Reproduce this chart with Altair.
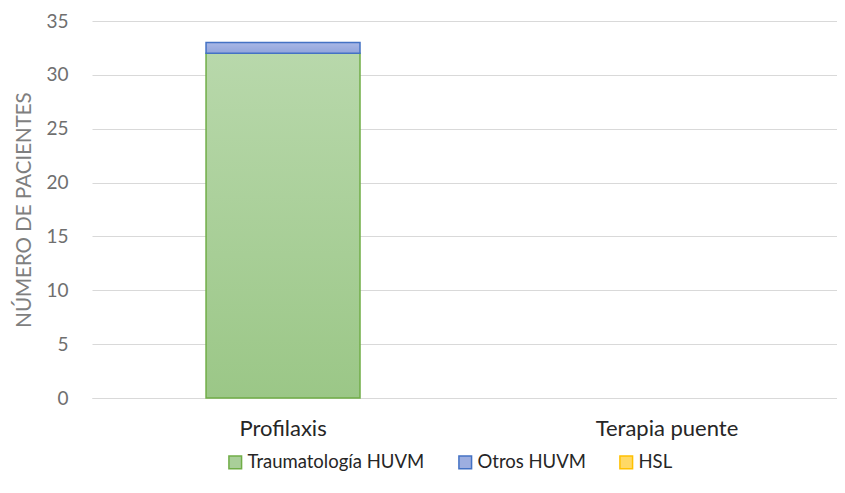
import altair as alt
import pandas as pd

categories = ["Profilaxis", "Terapia puente"]
series = ["Traumatología HUVM", "Otros HUVM", "HSL"]
trauma = [32, 0]
otros = [1, 0]
hsl = [0, 0]

fills = ["#A9CF99", "#9DAEE0", "#FFD966"]
strokes = ["#70AD47", "#4472C4", "#FFC000"]
grad_top = ["#B8D8AB", "#A8B7E6", "#FFE08A"]
grad_bottom = ["#9BC787", "#91A4DB", "#FFD54F"]

rows = []
for i, c in enumerate(categories):
    for j, (s, vals) in enumerate(zip(series, [trauma, otros, hsl])):
        rows.append({"cat": c, "serie": s, "valor": vals[i], "orden": j})
df = pd.DataFrame(rows)

FONT = "Lato"

x_enc = alt.X("cat:N", sort=categories, title=None,
              scale=alt.Scale(domain=categories, paddingInner=0.599, paddingOuter=0.297,
                              range=[0, 766]),
              axis=alt.Axis(labelAngle=0, labelFont=FONT, labelFontSize=22, labelColor="#262626",
                            labelPadding=20, ticks=False, domainColor="#D9D9D9", domainWidth=1))
y_axis = alt.Axis(values=[0, 5, 10, 15, 20, 25, 30, 35], labelFont=FONT, labelFontSize=19,
                  labelColor="#6F6F6F", labelPadding=24, ticks=False, domain=False,
                  gridColor="#D9D9D9", gridWidth=1,
                  titleFont=FONT, titleFontSize=20.5, titleColor="#7F7F7F",
                  titleFontWeight="normal", titlePadding=11)

base = alt.Chart(df).transform_stack(
    stack="valor", groupby=["cat"], as_=["y0", "y1"],
    sort=[alt.SortField("orden", order="ascending")]
)

layers = []
for j in range(len(series)):
    layers.append(
        base.transform_filter(f"datum.orden == {j} && datum.valor > 0").mark_bar(
            fill=alt.Gradient(gradient="linear",
                              stops=[alt.GradientStop(color=grad_top[j], offset=0),
                                     alt.GradientStop(color=grad_bottom[j], offset=1)],
                              x1=0, x2=0, y1=0, y2=1),
            stroke=strokes[j], strokeWidth=1.5
        ).encode(
            x=x_enc,
            y=alt.Y("y1:Q", title="NÚMERO DE PACIENTES",
                    scale=alt.Scale(domain=[0, 35], nice=False), axis=y_axis),
            y2="y0:Q",
        )
    )

legend_layer = alt.Chart(df).transform_filter("false").mark_bar(strokeWidth=1.5).encode(
    x=x_enc,
    color=alt.Color("serie:N", title=None,
                    scale=alt.Scale(domain=series, range=fills),
                    legend=alt.Legend(orient="none", legendX=134, legendY=432, direction="horizontal",
                                      symbolType="square", symbolSize=160,
                                      symbolStrokeWidth=1.5, labelFont=FONT, labelLimit=0,
                                      labelFontSize=18.5, labelColor="#262626", columnPadding=30,
                                      labelOffset=3)),
    stroke=alt.Stroke("serie:N", scale=alt.Scale(domain=series, range=strokes), legend=None),
)

chart = alt.layer(*layers, legend_layer).properties(
    width=745, height=377,
    autosize=alt.AutoSizeParams(type="none"),
    padding={"left": 84, "top": 13, "right": 0, "bottom": 80},
).configure_view(stroke=None)

chart.save("out.html", embed_options={"renderer": "svg", "actions": False})
